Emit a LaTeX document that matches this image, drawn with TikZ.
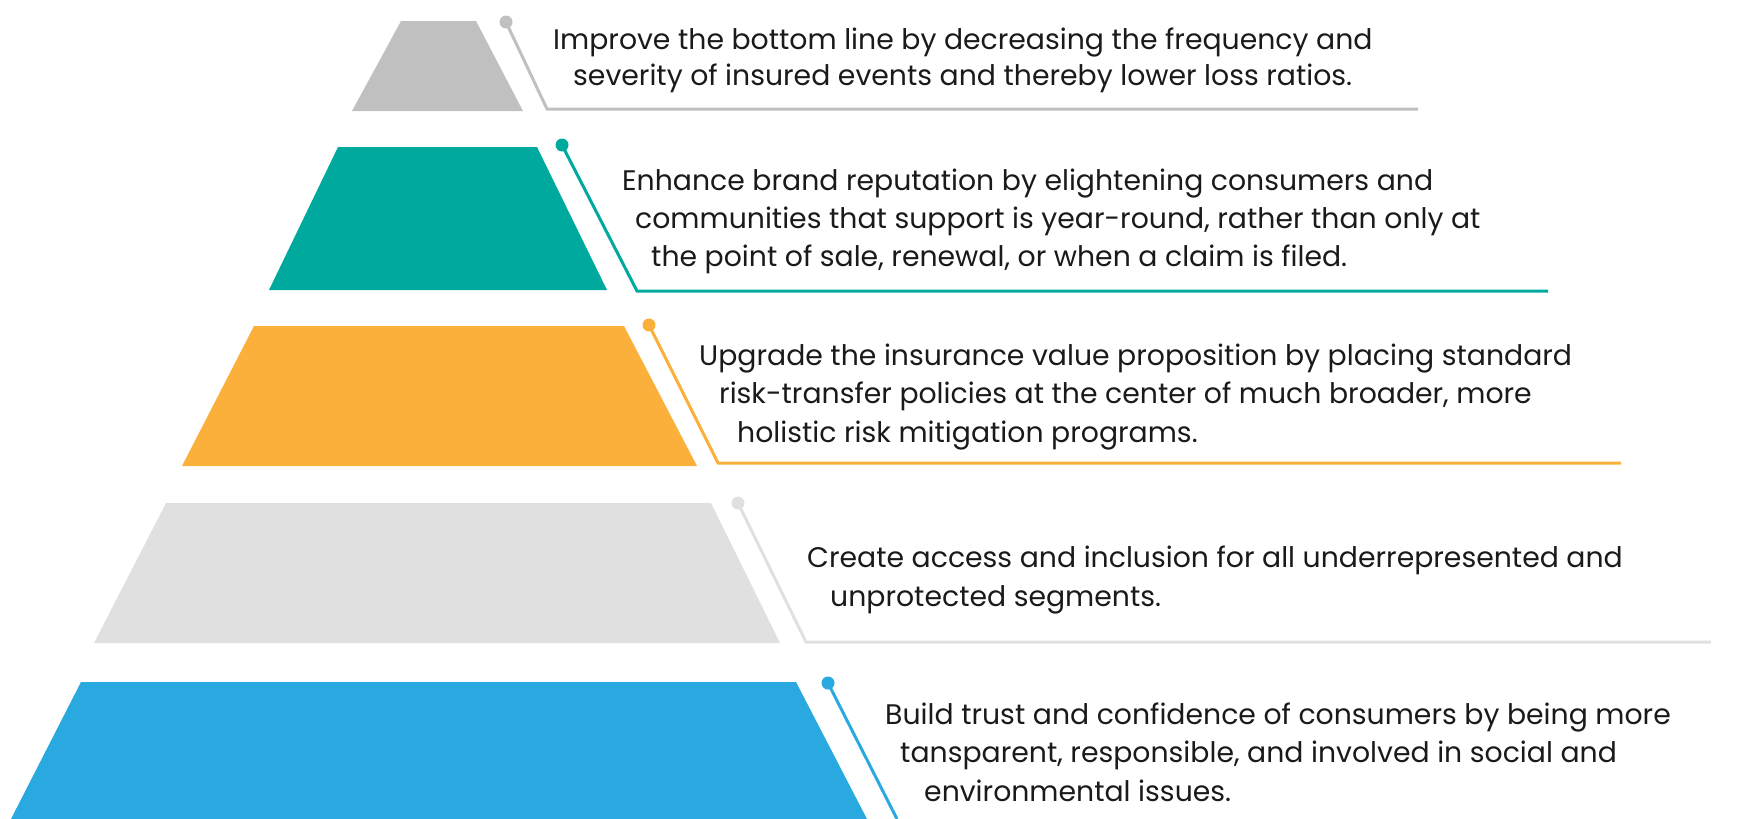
\documentclass[tikz,border=0pt]{standalone}
\usepackage{fontspec}
\setmainfont{Poppins}
\definecolor{lvgray}{HTML}{C0C0C0}
\definecolor{lvteal}{HTML}{00A99D}
\definecolor{lvorange}{HTML}{FBB03B}
\definecolor{lvlight}{HTML}{E0E0E0}
\definecolor{lvblue}{HTML}{29A9E0}
\definecolor{txtc}{HTML}{1A1A1A}
\begin{document}
\begin{tikzpicture}[x=1pt,y=-1pt,
  txt/.style={anchor=base west, inner sep=0pt, font=\fontsize{28.3}{38}\selectfont, text=txtc},
  conn/.style={line width=3pt},
  dotc/.style={radius=6.5pt}]
\useasboundingbox (0,0) rectangle (1762,819);

% level 1
\fill[lvgray] (401,21) -- (476,21) -- (523,111) -- (352,111) -- cycle;
\coordinate (d1) at (506,22); \coordinate (k1) at (547,109); \coordinate (e1) at (1418,109);
\draw[conn,lvgray] (d1) -- (k1) -- (e1);
\fill[lvgray] (d1) circle[dotc];
\node[txt] (t1a) at (553,49) {Improve the bottom line by decreasing the frequency and};
\node[txt] (t1b) at (573,85) {severity of insured events and thereby lower loss ratios.};

% level 2
\fill[lvteal] (338,147) -- (537,147) -- (607,290) -- (269,290) -- cycle;
\coordinate (d2) at (562,145); \coordinate (k2) at (637,291); \coordinate (e2) at (1548,291);
\draw[conn,lvteal] (d2) -- (k2) -- (e2);
\fill[lvteal] (d2) circle[dotc];
\node[txt] (t2a) at (622,190) {Enhance brand reputation by elightening consumers and};
\node[txt] (t2b) at (635,228) {communities that support is year-round, rather than only at};
\node[txt] (t2c) at (651,266) {the point of sale, renewal, or when a claim is filed.};

% level 3
\fill[lvorange] (254,326) -- (624,326) -- (697,466) -- (182,466) -- cycle;
\coordinate (d3) at (649,325); \coordinate (k3) at (718,463); \coordinate (e3) at (1621,463);
\draw[conn,lvorange] (d3) -- (k3) -- (e3);
\fill[lvorange] (d3) circle[dotc];
\node[txt] (t3a) at (699,365) {Upgrade the insurance value proposition by placing standard};
\node[txt] (t3b) at (719,403) {risk-transfer policies at the center of much broader, more};
\node[txt] (t3c) at (737,442) {holistic risk mitigation programs.};

% level 4
\fill[lvlight] (166,503) -- (711,503) -- (780,643) -- (94,643) -- cycle;
\coordinate (d4) at (738,503); \coordinate (k4) at (806,642); \coordinate (e4) at (1711,642);
\draw[conn,lvlight] (d4) -- (k4) -- (e4);
\fill[lvlight] (d4) circle[dotc];
\node[txt] (t4a) at (807,567) {Create access and inclusion for all underrepresented and};
\node[txt] (t4b) at (830,606) {unprotected segments.};

% level 5
\fill[lvblue] (81,682) -- (796,682) -- (867,819) -- (11,819) -- cycle;
\coordinate (d5) at (828,683); \coordinate (k5) at (897,819);
\draw[conn,lvblue] (d5) -- (k5);
\fill[lvblue] (d5) circle[dotc];
\node[txt] (t5a) at (885,724) {Build trust and confidence of consumers by being more};
\node[txt] (t5b) at (900,762) {tansparent, responsible, and involved in social and};
\node[txt] (t5c) at (924,801) {environmental issues.};
\end{tikzpicture}
\end{document}
